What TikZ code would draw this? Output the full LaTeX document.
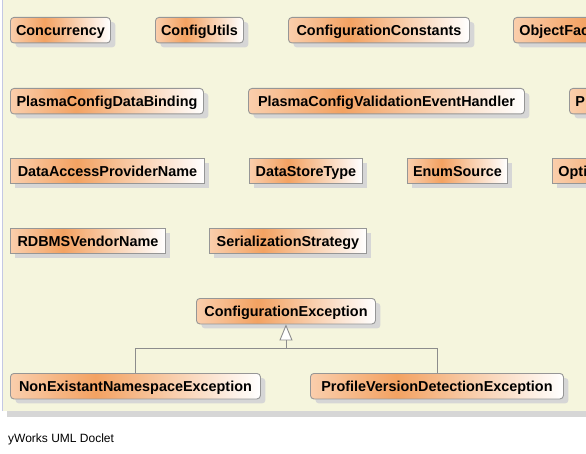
\documentclass[tikz,border=0pt]{standalone}
\usepackage{fontspec}
\setmainfont{Liberation Sans}
\usetikzlibrary{arrows.meta,shadows}
\definecolor{panel}{RGB}{245,245,221}
\definecolor{cA}{RGB}{250,206,172}
\definecolor{cB}{RGB}{243,162,98}
\definecolor{bordergray}{RGB}{150,150,150}
\definecolor{shadowgray}{RGB}{214,214,214}
\definecolor{lavender}{RGB}{196,200,228}
\definecolor{linegray}{RGB}{140,140,140}
\pgfdeclarehorizontalshading{umlshade}{100bp}{color(0bp)=(cA); color(25bp)=(cA); color(42bp)=(cB); color(75bp)=(white); color(100bp)=(white)}
\tikzset{
  umlbase/.style={draw=bordergray, line width=0.9pt, shading=umlshade, minimum height=25.5pt, inner sep=0pt, text height=12pt, text depth=0.5pt, anchor=north west, font=\bfseries\fontsize{14.4}{16}\selectfont, text=black, drop shadow={shadow xshift=5pt, shadow yshift=-4.5pt, fill=shadowgray, opacity=1}},
  cls/.style={umlbase, rounded corners=3.5pt},
  enm/.style={umlbase},
  cut/.style={text width=200pt, align=left, inner xsep=6pt},
  gen/.style={draw=linegray, line width=0.9pt},
}
\begin{document}
\begin{tikzpicture}[x=1pt,y=-1pt]
\useasboundingbox (0,0) rectangle (586,454);
\clip (0,0) rectangle (586,454);
\fill[white] (0,0) rectangle (586,454);
\fill[panel] (2.5,0) rectangle (600,411);
\fill[shadowgray] (7,411) rectangle (600,417);
\draw[lavender, line width=1pt] (2.5,0) -- (2.5,411);
% row 1
\node[cls, minimum width=100pt] (concurrency) at (10,17) {Concurrency};
\node[cls, minimum width=88pt] (configutils) at (155,17) {ConfigUtils};
\node[cls, minimum width=181pt] (configconst) at (288,17) {ConfigurationConstants};
\node[cls, cut] (objfac) at (513,17) {ObjectFac};
% row 2
\node[cls, minimum width=193pt] (databind) at (10,88) {PlasmaConfigDataBinding};
\node[cls, minimum width=276pt] (validhandler) at (248,88) {PlasmaConfigValidationEventHandler};
\node[cls, cut] (pcut) at (569,88) {P};
% row 3
\node[enm, minimum width=194pt] (dapn) at (10,158) {DataAccessProviderName};
\node[enm, minimum width=113pt] (dst) at (249,158) {DataStoreType};
\node[enm, minimum width=100pt] (enumsrc) at (407,158) {EnumSource};
\node[enm, cut] (opti) at (552,158) {Opti};
% row 4
\node[enm, minimum width=155pt] (rdbms) at (10,228) {RDBMSVendorName};
\node[enm, minimum width=157pt] (serial) at (209,228) {SerializationStrategy};
% exceptions
\node[cls, minimum width=179pt] (ce) at (196,298) {ConfigurationException};
\node[cls, minimum width=250pt] (ne) at (10,373) {NonExistantNamespaceException};
\node[cls, minimum width=253pt] (pv) at (310,373) {ProfileVersionDetectionException};
\coordinate (j) at (ce.south |- 0,348);
\draw[gen] (ne.north) |- (j);
\draw[gen] (pv.north) |- (j);
\draw[gen, -{Triangle[open, length=16pt, width=13pt, fill=white]}] (j) -- (ce.south);
% caption
\node[anchor=base west, inner sep=0pt, font=\fontsize{12}{14}\selectfont] (caption) at (8,442) {yWorks UML Doclet};
\end{tikzpicture}
\end{document}
